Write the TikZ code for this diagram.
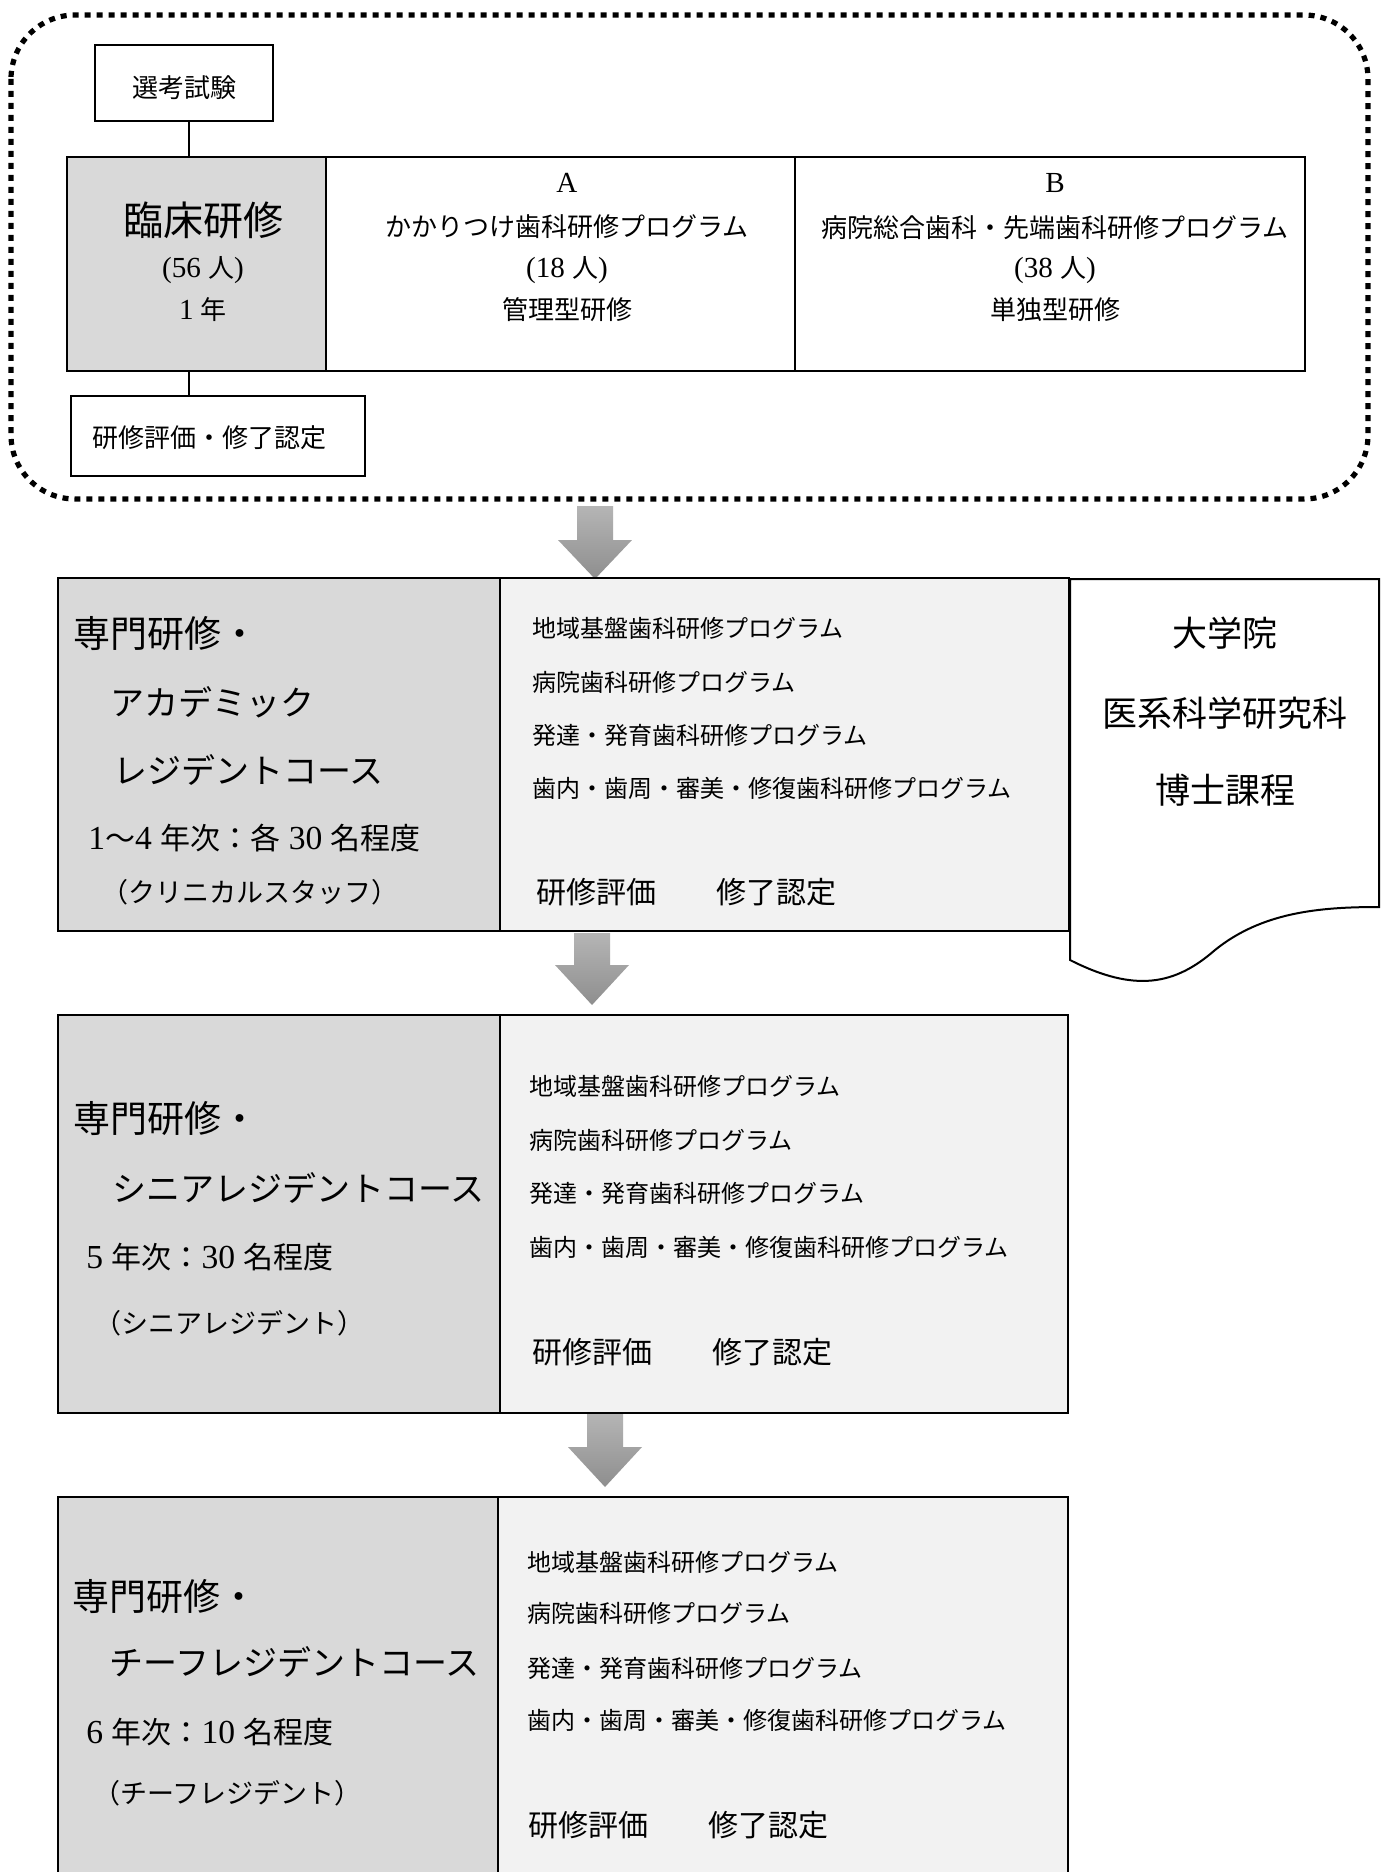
\documentclass[tikz,border=0pt]{standalone}
\usepackage{fontspec}
\setmainfont{Liberation Serif}[Scale=1.12]
\newfontfamily\jpfont{Noto Sans CJK JP}
\usetikzlibrary{fit}
% automatic font switching between Latin (serif) and Japanese
\XeTeXinterchartokenstate=1
\newXeTeXintercharclass\cjkcls
\newcount\jpc
\def\setcjkrange#1#2{\jpc=#1\relax\loop\XeTeXcharclass\jpc=\cjkcls\relax\ifnum\jpc<#2\relax\advance\jpc by 1\repeat}
\setcjkrange{"3000}{"30FF}
\setcjkrange{"4E00}{"9FFF}
\setcjkrange{"FF00}{"FFEF}
\XeTeXinterchartoks 0 \cjkcls = {\jpfont}
\XeTeXinterchartoks 4095 \cjkcls = {\jpfont}
\XeTeXinterchartoks \cjkcls 0 = {\rmfamily}
\XeTeXinterchartoks \cjkcls 4095 = {\rmfamily}
\definecolor{cellgray}{HTML}{D9D9D9}
\definecolor{celllight}{HTML}{F2F2F2}
\definecolor{arrtop}{HTML}{B5B5B5}
\definecolor{arrbot}{HTML}{8E8E8E}
\tikzset{
  fsz/.style={font=\fontsize{#1}{#1}\selectfont},
  txt/.style={inner sep=0pt, text=black},
  cellbox/.style={draw=black, inner sep=0pt, line width=#1},
  thinbox/.style={draw=black, fill=white, inner sep=0pt, line width=0.7pt},
  conn/.style={draw=black, line width=0.6pt},
  dotframe/.style={draw=black, line width=2.6pt, dash pattern=on 3pt off 3pt, rounded corners=32pt},
  blockarr/.style={top color=arrtop, bottom color=arrbot, draw=none},
}
\newcommand{\downarr}[4]{%
  \path[blockarr] ({#1-18},#2) -- ({#1+18},#2) -- ({#1+18},#3) -- ({#1+37},#3)
    -- (#1,#4) -- ({#1-37},#3) -- ({#1-18},#3) -- cycle;}
\begin{document}
\begin{tikzpicture}[x=0.5pt,y=-0.5pt]
\useasboundingbox (0,0) rectangle (1381,1872);
\clip (0,0) rectangle (1381,1872);
\fill[white] (0,0) rectangle (1381,1872);

% ---------- clinical training frame ----------
\draw[dotframe] (11,15) rectangle (1368,499);

\node[thinbox, fit={(95,45) (273,121)}] (sel) {};
\node[txt, fsz=13] (selt) at (184,88) {選考試験};

\node[cellbox=1pt, fill=cellgray, fit={(67,157) (326,371)}] (clin) {};
\node[cellbox=1pt, fill=white, fit={(326,157) (795,371)}] (progA) {};
\node[cellbox=1pt, fill=white, fit={(795,157) (1305,371)}] (progB) {};

\node[thinbox, fit={(71,396) (365,476)}] (eval0) {};
\node[txt, fsz=13, anchor=west] (eval0t) at (92,438) {研修評価・修了認定};

\coordinate (lx) at (189,0);
\draw[conn] (lx |- sel.south) -- (lx |- clin.north);
\draw[conn] (lx |- clin.south) -- (lx |- eval0.north);

\node[txt, fsz=20] (clint) at (203,220) {臨床研修};
\node[txt, fsz=13] (clinn) at (203,270) {(56 人)};
\node[txt, fsz=13] (cliny) at (203,310) {1 年};

\node[txt, fsz=13] (at1) at (567,183) {A};
\node[txt, fsz=13] (at2) at (567,227) {かかりつけ歯科研修プログラム};
\node[txt, fsz=13] (at3) at (567,270) {(18 人)};
\node[txt, fsz=13] (at4) at (567,310) {管理型研修};

\node[txt, fsz=13] (bt1) at (1055,183) {B};
\node[txt, fsz=13] (bt2) at (1055,228) {病院総合歯科・先端歯科研修プログラム};
\node[txt, fsz=13] (bt3) at (1055,270) {(38 人)};
\node[txt, fsz=13] (bt4) at (1055,310) {単独型研修};

% ---------- arrows ----------
\downarr{595}{506}{540}{579}
\downarr{592}{933}{965}{1005}
\downarr{605}{1413}{1447}{1487}

% ---------- academic resident course ----------
\node[cellbox=1.3pt, fill=cellgray, fit={(58,578) (500,931)}] (acL) {};
\node[cellbox=1.3pt, fill=celllight, fit={(500,578) (1069,931)}] (acR) {};
\path[draw=black, fill=white, line width=1pt] (1070,579) -- (1379,579) -- (1379,907)
   .. controls (1320,907) and (1262,912) .. (1215,950)
   .. controls (1175,985) and (1135,993) .. (1070,960) -- cycle;
\node[txt, fsz=17.5] (gs1) at (1225,633) {大学院};
\node[txt, fsz=17.5] (gs2) at (1225,713) {医系科学研究科};
\node[txt, fsz=17.5] (gs3) at (1225,790) {博士課程};

\node[txt, fsz=18.5, anchor=west] (ac1) at (73,633) {専門研修・};
\node[txt, fsz=17, anchor=west] (ac2) at (110,702) {アカデミック};
\node[txt, fsz=17, anchor=west] (ac3) at (113,770) {レジデントコース};
\node[txt, fsz=15, anchor=west] (ac4) at (88,838) {1～4 年次：各 30 名程度};
\node[txt, fsz=13.5, anchor=west] (ac5) at (101,892) {（クリニカルスタッフ）};

\node[txt, fsz=12, anchor=west] (acp1) at (532,628) {地域基盤歯科研修プログラム};
\node[txt, fsz=12, anchor=west] (acp2) at (532,682) {病院歯科研修プログラム};
\node[txt, fsz=12, anchor=west] (acp3) at (532,735) {発達・発育歯科研修プログラム};
\node[txt, fsz=12, anchor=west] (acp4) at (532,788) {歯内・歯周・審美・修復歯科研修プログラム};
\node[txt, fsz=15, anchor=west] (acp5) at (536,892) {研修評価　　修了認定};

% ---------- senior resident course ----------
\node[cellbox=1.3pt, fill=cellgray, fit={(58,1015) (500,1413)}] (srL) {};
\node[cellbox=1.3pt, fill=celllight, fit={(500,1015) (1068,1413)}] (srR) {};

\node[txt, fsz=18.5, anchor=west] (sr1) at (73,1118) {専門研修・};
\node[txt, fsz=17, anchor=west] (sr2) at (112,1188) {シニアレジデントコース};
\node[txt, fsz=15, anchor=west] (sr3) at (86,1257) {5 年次：30 名程度};
\node[txt, fsz=13.5, anchor=west] (sr4) at (94,1323) {（シニアレジデント）};

\node[txt, fsz=12, anchor=west] (srp1) at (529,1086) {地域基盤歯科研修プログラム};
\node[txt, fsz=12, anchor=west] (srp2) at (529,1140) {病院歯科研修プログラム};
\node[txt, fsz=12, anchor=west] (srp3) at (529,1193) {発達・発育歯科研修プログラム};
\node[txt, fsz=12, anchor=west] (srp4) at (529,1247) {歯内・歯周・審美・修復歯科研修プログラム};
\node[txt, fsz=15, anchor=west] (srp5) at (532,1352) {研修評価　　修了認定};

% ---------- chief resident course ----------
\node[cellbox=1.3pt, fill=cellgray, fit={(58,1497) (498,1900)}] (crL) {};
\node[cellbox=1.3pt, fill=celllight, fit={(498,1497) (1068,1900)}] (crR) {};

\node[txt, fsz=18.5, anchor=west] (cr1) at (72,1596) {専門研修・};
\node[txt, fsz=17, anchor=west] (cr2) at (109,1662) {チーフレジデントコース};
\node[txt, fsz=15, anchor=west] (cr3) at (86,1732) {6 年次：10 名程度};
\node[txt, fsz=13.5, anchor=west] (cr4) at (93,1793) {（チーフレジデント）};

\node[txt, fsz=12, anchor=west] (crp1) at (527,1562) {地域基盤歯科研修プログラム};
\node[txt, fsz=12, anchor=west] (crp2) at (527,1613) {病院歯科研修プログラム};
\node[txt, fsz=12, anchor=west] (crp3) at (527,1668) {発達・発育歯科研修プログラム};
\node[txt, fsz=12, anchor=west] (crp4) at (527,1720) {歯内・歯周・審美・修復歯科研修プログラム};
\node[txt, fsz=15, anchor=west] (crp5) at (528,1825) {研修評価　　修了認定};
\end{tikzpicture}
\end{document}
